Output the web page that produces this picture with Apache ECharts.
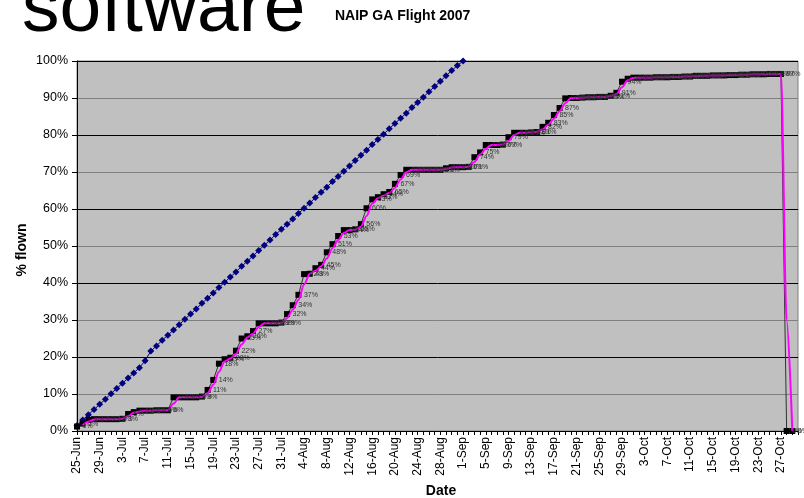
<!DOCTYPE html>
<html><head><meta charset="utf-8">
<script src="https://cdn.jsdelivr.net/npm/echarts@6/dist/echarts.min.js"></script>
<style>html,body{margin:0;padding:0;background:#fff}#c{width:804px;height:498px}</style>
</head><body><div id="c"></div><script>
const categories = [
'25-Jun','26-Jun','27-Jun','28-Jun','29-Jun','30-Jun',
'1-Jul','2-Jul','3-Jul','4-Jul','5-Jul','6-Jul','7-Jul','8-Jul','9-Jul','10-Jul','11-Jul','12-Jul','13-Jul','14-Jul','15-Jul','16-Jul','17-Jul','18-Jul','19-Jul','20-Jul','21-Jul','22-Jul','23-Jul','24-Jul','25-Jul','26-Jul','27-Jul','28-Jul','29-Jul','30-Jul','31-Jul',
'1-Aug','2-Aug','3-Aug','4-Aug','5-Aug','6-Aug','7-Aug','8-Aug','9-Aug','10-Aug','11-Aug','12-Aug','13-Aug','14-Aug','15-Aug','16-Aug','17-Aug','18-Aug','19-Aug','20-Aug','21-Aug','22-Aug','23-Aug','24-Aug','25-Aug','26-Aug','27-Aug','28-Aug','29-Aug','30-Aug','31-Aug',
'1-Sep','2-Sep','3-Sep','4-Sep','5-Sep','6-Sep','7-Sep','8-Sep','9-Sep','10-Sep','11-Sep','12-Sep','13-Sep','14-Sep','15-Sep','16-Sep','17-Sep','18-Sep','19-Sep','20-Sep','21-Sep','22-Sep','23-Sep','24-Sep','25-Sep','26-Sep','27-Sep','28-Sep','29-Sep','30-Sep',
'1-Oct','2-Oct','3-Oct','4-Oct','5-Oct','6-Oct','7-Oct','8-Oct','9-Oct','10-Oct','11-Oct','12-Oct','13-Oct','14-Oct','15-Oct','16-Oct','17-Oct','18-Oct','19-Oct','20-Oct','21-Oct','22-Oct','23-Oct','24-Oct','25-Oct','26-Oct','27-Oct','28-Oct','29-Oct','30-Oct'
];
// planned % (blue diamonds)
const planned = [
1.5,3.0,4.4,5.8,7.2,8.6,10.1,11.5,12.9,14.3,
15.7,17.1,19.0,21.6,23.0,24.5,25.9,27.3,28.7,30.2,
31.6,33.0,34.5,35.9,37.3,38.8,40.2,41.6,43.0,44.5,
45.9,47.3,48.8,50.2,51.6,53.1,54.5,55.9,57.3,58.8,
60.2,61.6,63.1,64.5,65.9,67.4,68.8,70.2,71.6,73.1,
74.5,75.9,77.4,78.8,80.2,81.7,83.1,84.5,85.9,87.4,
88.8,90.2,91.7,93.1,94.5,96.0,97.4,98.8,100
];
// actual % flown (black squares)
const flown = [
1.2,2.0,3.0,3.2,3.2,3.2,3.2,3.2,3.3,4.6,
5.1,5.5,5.5,5.5,5.6,5.6,5.6,9.1,9.1,9.1,
9.1,9.1,9.3,11.1,13.8,18.2,19.4,19.8,21.7,25.0,
25.6,27.0,29.1,29.1,29.1,29.1,29.3,31.6,34.0,36.8,
42.4,42.5,44.0,44.9,48.3,50.5,52.7,54.3,54.3,54.5,
55.9,60.2,62.6,63.2,64.0,64.6,66.8,69.2,70.6,70.6,
70.6,70.6,70.6,70.6,70.6,71.0,71.3,71.3,71.3,71.4,
74.0,75.3,77.3,77.3,77.3,77.4,79.4,80.6,80.6,80.6,
80.7,80.8,82.2,83.3,85.4,87.3,89.9,90.0,90.0,90.1,
90.2,90.2,90.3,90.3,90.6,91.4,94.4,95.2,95.5,95.5,
95.5,95.5,95.6,95.6,95.6,95.7,95.7,95.8,95.8,96.0,
96.0,96.0,96.1,96.1,96.1,96.2,96.2,96.3,96.3,96.4,
96.4,96.4,96.5,96.5,96.5,0,0
];
// magenta trend line
const trend = [
'-',1.6,2.5,3.1,3.2,3.2,3.2,3.2,3.3,4.0,
4.9,5.3,5.5,5.5,5.6,5.6,5.6,7.4,9.1,9.1,
9.1,9.1,9.2,10.2,12.5,16.0,18.8,19.6,20.8,23.4,
25.3,26.3,28.1,29.1,29.1,29.1,29.2,30.5,32.8,35.4,
39.6,42.5,43.3,44.5,46.6,49.4,51.6,53.5,54.3,54.4,
55.2,58.1,61.4,62.9,63.6,64.3,65.7,68.0,69.9,70.6,
70.6,70.6,70.6,70.6,70.6,70.8,71.2,71.3,71.3,71.4,
72.7,74.7,76.3,77.3,77.3,77.4,78.4,80.0,80.6,80.6,
80.7,80.8,81.5,82.8,84.4,86.4,88.6,90.0,90.0,90.1,
90.2,90.2,90.3,90.3,90.5,91.0,92.9,94.8,95.4,95.5,
95.5,95.5,95.6,95.6,95.6,95.7,95.7,95.8,95.8,95.9,
96.0,96.0,96.1,96.1,96.1,96.2,96.2,96.3,96.3,96.4,
96.4,96.4,96.5,96.5,96.5,30,0
];
const yMin = 0, yMax = 100, yStep = 10;

const FONT = 'Liberation Sans, Arial, sans-serif';
const chart = echarts.init(document.getElementById('c'), null, {renderer: 'canvas'});
chart.setOption({
  animation: false,
  backgroundColor: '#ffffff',
  textStyle: {fontFamily: FONT},
  grid: {left: 77, right: 6, top: 61, bottom: 67, show: true, backgroundColor: '#c0c0c0', borderColor: '#808080', borderWidth: 1, containLabel: false},
  xAxis: {
    type: 'category', data: categories, boundaryGap: false,
    axisLine: {show: true, lineStyle: {color: '#000', width: 1}},
    axisTick: {show: true, interval: 0, length: 4, lineStyle: {color: '#000'}},
    axisLabel: {interval: 3, rotate: 90, margin: 6, fontSize: 12, color: '#000', fontFamily: FONT},
    splitLine: {show: false}
  },
  yAxis: {
    type: 'value', min: yMin, max: yMax, interval: yStep,
    axisLine: {show: true, lineStyle: {color: '#000', width: 1}},
    axisTick: {show: true, length: 5, lineStyle: {color: '#000'}},
    axisLabel: {formatter: '{value}%', fontSize: 12.5, color: '#000', margin: 9, fontFamily: FONT},
    splitLine: {show: true, lineStyle: {color: ['#000000', '#808080'], width: 1}}
  },
  graphic: [
    {type: 'text', left: 22, top: -27, style: {text: 'software', font: '75px Liberation Sans, Arial, sans-serif', fill: '#000'}},
    {type: 'text', x: 335, y: 16, style: {text: 'NAIP GA Flight 2007', font: 'bold 14px Liberation Sans, Arial, sans-serif', fill: '#000', verticalAlign: 'middle', align: 'left'}},
    {type: 'text', x: 22, y: 250, rotation: Math.PI / 2, style: {text: '% flown', font: 'bold 14px Liberation Sans, Arial, sans-serif', fill: '#000', verticalAlign: 'middle', align: 'center'}},
    {type: 'text', x: 441, y: 491, style: {text: 'Date', font: 'bold 14px Liberation Sans, Arial, sans-serif', fill: '#000', verticalAlign: 'middle', align: 'center'}}
  ],
  series: [
    {type: 'line', name: 'planned', data: planned, z: 2, symbol: 'diamond', symbolSize: 7, showAllSymbol: true,
     itemStyle: {color: '#000080'}, lineStyle: {color: '#000080', width: 1}},
    {type: 'line', name: 'flown', data: flown, z: 3, symbol: 'rect', symbolSize: 6, showAllSymbol: true,
     itemStyle: {color: '#000'}, lineStyle: {color: '#303030', width: 1}},
    {type: 'line', name: 'trend', data: trend, z: 4, symbol: 'none', smooth: 0.3, smoothMonotone: 'x',
     lineStyle: {color: '#ff00ff', width: 2}},
    {type: 'line', name: 'labels', data: flown, z: 5, symbol: 'circle', symbolSize: 1, showAllSymbol: true,
     itemStyle: {color: 'rgba(0,0,0,0)'}, lineStyle: {opacity: 0},
     label: {show: true, position: 'right', distance: 5, fontSize: 7, color: '#333', fontFamily: FONT,
       formatter: p => Math.round(p.value) + '%'}}
  ]
});
</script></body></html>
